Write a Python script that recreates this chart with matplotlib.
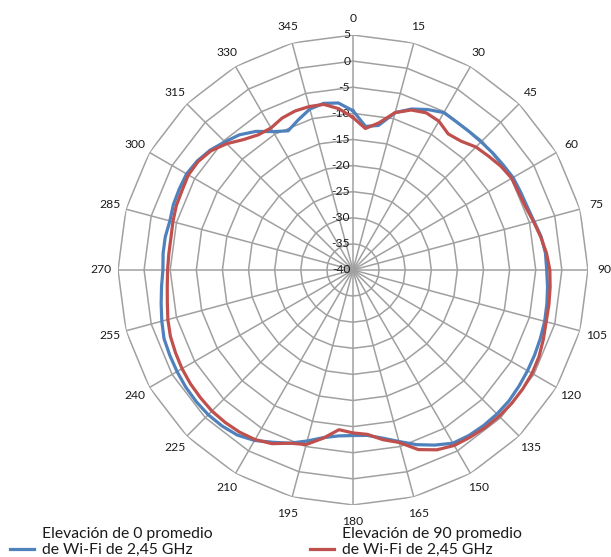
import numpy as np
import matplotlib
matplotlib.use("Agg")
import matplotlib.pyplot as plt
from matplotlib.lines import Line2D
from matplotlib.offsetbox import TextArea
from matplotlib.transforms import offset_copy

plt.rcParams["font.family"] = ["Lato", "DejaVu Sans"]

# measured pattern, dB, every 5 degrees (clockwise from top)
angles_deg = list(range(0, 360, 5))
elev0_db = [
    -9.5, -12.4, -11.9, -8.8, -7.2, -6.1, -5.2, -5.4, -5.4, -5.3, -5.1, -4.9,
    -4.6, -4.6, -4.5, -4.1, -3.4, -3.0, -2.9, -2.6, -2.3, -2.0, -1.8, -1.6,
    -1.4, -1.2, -1.0, -1.0, -1.1, -1.3, -1.7, -3.0, -4.4, -6.0, -7.3, -8.2,
    -8.3, -8.1, -7.4, -6.1, -4.7, -3.6, -2.3, -1.4, -1.0, -0.8, -0.8, -0.9,
    -1.1, -1.3, -1.5, -2.1, -2.7, -3.2, -3.6, -3.5, -3.5, -3.7, -3.4, -3.3,
    -3.2, -3.6, -4.3, -5.3, -6.2, -7.6, -9.4, -10.6, -9.4, -8.1, -7.6, -7.9,
]
elev90_db = [
    -10.8, -12.8, -11.4, -8.8, -7.4, -6.8, -7.1, -8.2, -7.8, -6.7, -6.1, -5.4,
    -4.9, -5.0, -4.8, -4.2, -3.5, -2.8, -2.3, -2.1, -1.9, -1.7, -1.2, -0.7,
    -0.4, -0.3, -0.3, -0.4, -0.6, -0.9, -1.2, -2.0, -3.4, -5.8, -7.0, -8.4,
    -8.8, -9.3, -7.3, -5.4, -4.7, -3.3, -2.5, -2.1, -1.9, -1.8, -1.9, -2.0,
    -2.2, -2.5, -2.8, -3.3, -3.9, -4.3, -4.5, -4.6, -4.6, -4.3, -4.0, -3.9,
    -3.6, -3.8, -4.5, -5.8, -7.4, -8.4, -8.6, -7.9, -7.6, -7.6, -7.8, -9.0,
]
series_labels = [
    "Elevación de 0 promedio\nde Wi-Fi de 2,45 GHz",
    "Elevación de 90 promedio\nde Wi-Fi de 2,45 GHz",
]
angle_ticks = list(range(0, 360, 15))
radial_ticks = list(range(-40, 6, 5))

BLUE = "#4F81BD"
RED = "#C0504D"
GRID = "#A0A0A0"
TEXT = "#1a1a1a"

fig = plt.figure(figsize=(6.11, 5.57), dpi=100)
ax = fig.add_axes([0.1931, 0.0934, 0.7692, 0.8438], projection="polar")
ax.set_theta_zero_location("N")
ax.set_theta_direction(-1)
rmin, rmax = radial_ticks[0], radial_ticks[-1]
ax.set_ylim(rmin, rmax)
ax.grid(False)
ax.spines["polar"].set_visible(False)
ax.set_yticks([])
ax.set_xticks(np.deg2rad(angle_ticks))
ax.set_xticklabels([str(a) for a in angle_ticks], fontsize=8.7, color=TEXT)
ax.tick_params(axis="x", pad=5, length=0)

# excel-style polygon rings (24 sides) and spokes
half = np.deg2rad(7.5)
for r in radial_ticks[1:]:
    th_all, r_all = [], []
    for k in range(24):
        th = np.linspace(2 * k * half, 2 * (k + 1) * half, 20)
        d = (r - rmin) * np.cos(half) / np.cos(th - (2 * k + 1) * half)
        th_all.append(th)
        r_all.append(rmin + d)
    ax.plot(np.concatenate(th_all), np.concatenate(r_all), color=GRID, lw=1.1, zorder=1)
for a in angle_ticks:
    ax.plot([np.deg2rad(a)] * 2, [rmin, rmax], color=GRID, lw=1.1, zorder=1)

lab_tr = offset_copy(ax.transData, fig=fig, x=-2, y=0, units="points")
for r in radial_ticks:
    ax.text(0, r, str(r), transform=lab_tr, ha="right", va="center",
            fontsize=8.7, color=TEXT, zorder=3)

theta = np.deg2rad(angles_deg + [angles_deg[0]])
ax.plot(theta, elev0_db + [elev0_db[0]], color=BLUE, lw=2.3, zorder=4)
ax.plot(theta, elev90_db + [elev90_db[0]], color=RED, lw=2.3, zorder=5)

for color, label, x0 in [(BLUE, series_labels[0], 10 / 611), (RED, series_labels[1], 310 / 611)]:
    leg = fig.legend([Line2D([], [], color=color, lw=2.3)], [label],
                     loc="lower left", bbox_to_anchor=(x0, 0.0), frameon=False,
                     fontsize=11.3, handlelength=1.5, handletextpad=0.55,
                     borderpad=0, borderaxespad=0)
    for t in leg.get_texts():
        t.set_color(TEXT)
    for ta in leg.findobj(TextArea):
        ta._multilinebaseline = False

fig.savefig("out.png", dpi=100)
